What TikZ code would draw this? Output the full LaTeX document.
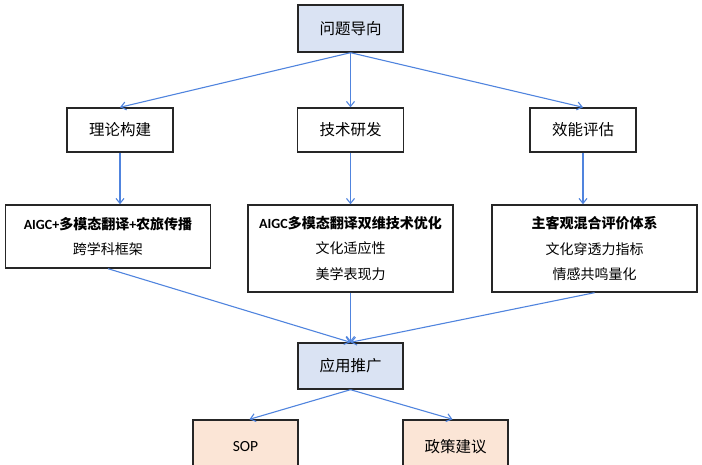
\documentclass[tikz,border=0pt]{standalone}
\usepackage{fontspec}
\setmainfont{Noto Sans CJK SC}
\newfontfamily\latin{Carlito}
\usetikzlibrary{arrows.meta}

\definecolor{linkblue}{RGB}{80,132,222}
\definecolor{headfill}{RGB}{218,227,243}
\definecolor{endfill}{RGB}{251,229,214}
\definecolor{boxline}{RGB}{38,38,38}

\tikzset{
  box/.style={draw=boxline, line width=1.4pt, inner sep=0pt, align=center,
    font=\fontsize{15.5}{18}\selectfont},
  headbox/.style={box, fill=headfill, minimum width=105pt, minimum height=47pt},
  stagebox/.style={box, fill=white, minimum width=106pt, minimum height=44pt},
  detailbox/.style={box, fill=white, minimum width=205pt,
    font=\fontsize{14}{25.5}\selectfont},
  endbox/.style={box, fill=endfill, minimum width=105pt, minimum height=60pt},
  link/.style={draw=linkblue, line width=1.1pt, -{Straight Barb[length=5pt,width=8pt]}}
}

\begin{document}
\begin{tikzpicture}[x=1pt,y=-1pt]
\useasboundingbox (0,0) rectangle (702,465);

% problem
\node[headbox] (problem) at (350.5,28.5) {问题导向};

% three stages
\node[stagebox] (theory) at (120,130) {理论构建};
\node[stagebox] (tech)   at (350.5,130) {技术研发};
\node[stagebox] (eval)   at (583,130) {效能评估};

% details
\node[detailbox, minimum height=63pt] (theoryd) at (108,236.5)
  {\bfseries{\latin AIGC+}多模态翻译{\latin +}农旅传播\\跨学科框架};
\node[detailbox, minimum height=87pt] (techd) at (350.5,248.5)
  {\bfseries{\latin AIGC}多模态翻译双维技术优化\\文化适应性\\美学表现力};
\node[detailbox, minimum height=87pt] (evald) at (594.5,248.5)
  {\bfseries 主客观混合评价体系\\文化穿透力指标\\情感共鸣量化};

% application
\node[headbox, minimum height=46pt] (apply) at (350.5,366) {应用推广};

% outputs (cut by the page edge)
\node[endbox] (sop)    at (245.5,450) {\raisebox{8pt}{\latin SOP}};
\node[endbox] (policy) at (455.5,450) {\raisebox{8pt}{政策建议}};

\draw[link] (problem.south) -- (theory.north);
\draw[link] (problem.south) -- (tech.north);
\draw[link] (problem.south) -- (eval.north);

\draw[link] (theory.south) -- (theory.south |- theoryd.north);
\draw[link] (tech.south) -- (techd.north);
\draw[link] (eval.south) -- (eval.south |- evald.north);

\draw[link] (theoryd.south) -- (apply.north);
\draw[link] (techd.south) -- (apply.north);
\draw[link] (evald.south) -- (apply.north);

\draw[link] (apply.south) -- ([xshift=4pt]sop.north);
\draw[link] (apply.south) -- ([xshift=-3pt]policy.north);

\end{tikzpicture}
\end{document}
